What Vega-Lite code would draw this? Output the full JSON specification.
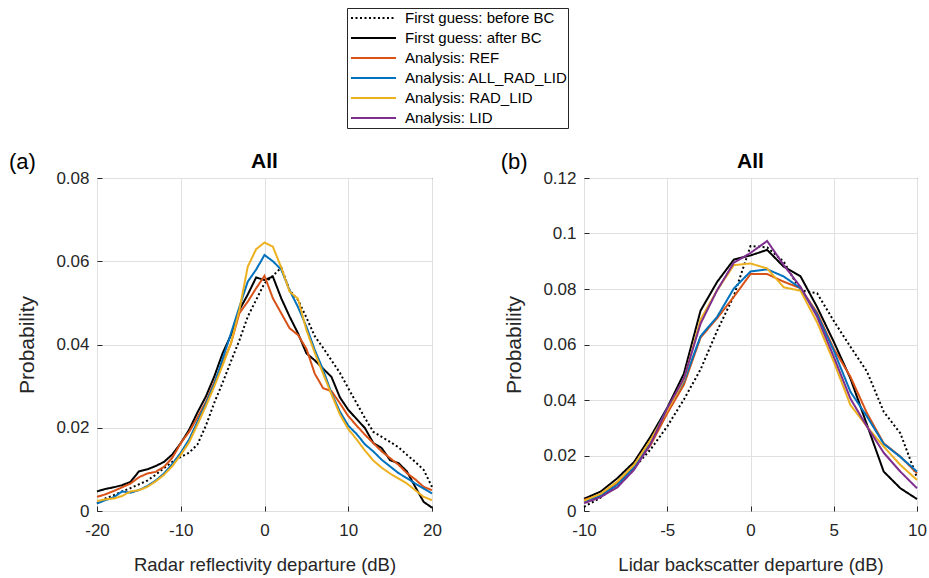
{
"$schema": "https://vega.github.io/schema/vega-lite/v6.json",
"padding": {"left": 8, "top": 7, "right": 5, "bottom": 5},
"background": "white",
"bounds": "flush",
"spacing": 152,
"config": {
  "font": "Liberation Sans",
  "view": {"stroke": "#262626", "strokeWidth": 1},
  "axis": {"labelFont": "Liberation Sans", "titleFont": "Liberation Sans", "labelFontSize": 17, "titleFontSize": 18.5, "titleFontWeight": "normal", "labelColor": "#262626", "titleColor": "#262626", "gridColor": "#e0e0e0", "gridWidth": 1, "domain": false, "tickColor": "#262626", "tickSize": -5, "labelPadding": 13, "labelFlush": false},
  "axisX": {"titlePadding": 17, "labelPadding": 16},
  "axisY": {"titlePadding": 18, "titleFontSize": 21},
  "title": {"font": "Liberation Sans", "fontSize": 21, "fontWeight": "bold", "color": "#000000", "offset": -21}
},
"datasets": {
"radar": [
{"x":-20,"p":0.0018,"s":"First guess: before BC"},{"x":-19,"p":0.0030,"s":"First guess: before BC"},{"x":-18,"p":0.0038,"s":"First guess: before BC"},{"x":-17,"p":0.0047,"s":"First guess: before BC"},{"x":-16,"p":0.0055,"s":"First guess: before BC"},{"x":-15,"p":0.0064,"s":"First guess: before BC"},{"x":-14,"p":0.0073,"s":"First guess: before BC"},{"x":-13,"p":0.0087,"s":"First guess: before BC"},{"x":-12,"p":0.0103,"s":"First guess: before BC"},{"x":-11,"p":0.0118,"s":"First guess: before BC"},{"x":-10,"p":0.0130,"s":"First guess: before BC"},{"x":-9,"p":0.0140,"s":"First guess: before BC"},{"x":-8,"p":0.0160,"s":"First guess: before BC"},{"x":-7,"p":0.0205,"s":"First guess: before BC"},{"x":-6,"p":0.0260,"s":"First guess: before BC"},{"x":-5,"p":0.0308,"s":"First guess: before BC"},{"x":-4,"p":0.0360,"s":"First guess: before BC"},{"x":-3,"p":0.0410,"s":"First guess: before BC"},{"x":-2,"p":0.0467,"s":"First guess: before BC"},{"x":-1,"p":0.0507,"s":"First guess: before BC"},{"x":0,"p":0.0547,"s":"First guess: before BC"},{"x":1,"p":0.0565,"s":"First guess: before BC"},{"x":2,"p":0.0585,"s":"First guess: before BC"},{"x":3,"p":0.0530,"s":"First guess: before BC"},{"x":4,"p":0.0507,"s":"First guess: before BC"},{"x":5,"p":0.0465,"s":"First guess: before BC"},{"x":6,"p":0.0420,"s":"First guess: before BC"},{"x":7,"p":0.0392,"s":"First guess: before BC"},{"x":8,"p":0.0362,"s":"First guess: before BC"},{"x":9,"p":0.0332,"s":"First guess: before BC"},{"x":10,"p":0.0295,"s":"First guess: before BC"},{"x":11,"p":0.0259,"s":"First guess: before BC"},{"x":12,"p":0.0223,"s":"First guess: before BC"},{"x":13,"p":0.0190,"s":"First guess: before BC"},{"x":14,"p":0.0178,"s":"First guess: before BC"},{"x":15,"p":0.0166,"s":"First guess: before BC"},{"x":16,"p":0.0153,"s":"First guess: before BC"},{"x":17,"p":0.0135,"s":"First guess: before BC"},{"x":18,"p":0.0118,"s":"First guess: before BC"},{"x":19,"p":0.0099,"s":"First guess: before BC"},{"x":20,"p":0.0058,"s":"First guess: before BC"},
{"x":-20,"p":0.0047,"s":"First guess: after BC"},{"x":-19,"p":0.0053,"s":"First guess: after BC"},{"x":-18,"p":0.0057,"s":"First guess: after BC"},{"x":-17,"p":0.0062,"s":"First guess: after BC"},{"x":-16,"p":0.0070,"s":"First guess: after BC"},{"x":-15,"p":0.0095,"s":"First guess: after BC"},{"x":-14,"p":0.0100,"s":"First guess: after BC"},{"x":-13,"p":0.0108,"s":"First guess: after BC"},{"x":-12,"p":0.0118,"s":"First guess: after BC"},{"x":-11,"p":0.0136,"s":"First guess: after BC"},{"x":-10,"p":0.0163,"s":"First guess: after BC"},{"x":-9,"p":0.0195,"s":"First guess: after BC"},{"x":-8,"p":0.0237,"s":"First guess: after BC"},{"x":-7,"p":0.0275,"s":"First guess: after BC"},{"x":-6,"p":0.0323,"s":"First guess: after BC"},{"x":-5,"p":0.0379,"s":"First guess: after BC"},{"x":-4,"p":0.0423,"s":"First guess: after BC"},{"x":-3,"p":0.0483,"s":"First guess: after BC"},{"x":-2,"p":0.0520,"s":"First guess: after BC"},{"x":-1,"p":0.0561,"s":"First guess: after BC"},{"x":0,"p":0.0555,"s":"First guess: after BC"},{"x":1,"p":0.0563,"s":"First guess: after BC"},{"x":2,"p":0.0511,"s":"First guess: after BC"},{"x":3,"p":0.0467,"s":"First guess: after BC"},{"x":4,"p":0.0427,"s":"First guess: after BC"},{"x":5,"p":0.0379,"s":"First guess: after BC"},{"x":6,"p":0.0362,"s":"First guess: after BC"},{"x":7,"p":0.0342,"s":"First guess: after BC"},{"x":8,"p":0.0322,"s":"First guess: after BC"},{"x":9,"p":0.0273,"s":"First guess: after BC"},{"x":10,"p":0.0243,"s":"First guess: after BC"},{"x":11,"p":0.0221,"s":"First guess: after BC"},{"x":12,"p":0.0199,"s":"First guess: after BC"},{"x":13,"p":0.0163,"s":"First guess: after BC"},{"x":14,"p":0.0151,"s":"First guess: after BC"},{"x":15,"p":0.0122,"s":"First guess: after BC"},{"x":16,"p":0.0115,"s":"First guess: after BC"},{"x":17,"p":0.0095,"s":"First guess: after BC"},{"x":18,"p":0.0058,"s":"First guess: after BC"},{"x":19,"p":0.0022,"s":"First guess: after BC"},{"x":20,"p":0.0008,"s":"First guess: after BC"},
{"x":-20,"p":0.0034,"s":"Analysis: REF"},{"x":-19,"p":0.0040,"s":"Analysis: REF"},{"x":-18,"p":0.0048,"s":"Analysis: REF"},{"x":-17,"p":0.0057,"s":"Analysis: REF"},{"x":-16,"p":0.0066,"s":"Analysis: REF"},{"x":-15,"p":0.0081,"s":"Analysis: REF"},{"x":-14,"p":0.0090,"s":"Analysis: REF"},{"x":-13,"p":0.0094,"s":"Analysis: REF"},{"x":-12,"p":0.0106,"s":"Analysis: REF"},{"x":-11,"p":0.0128,"s":"Analysis: REF"},{"x":-10,"p":0.0163,"s":"Analysis: REF"},{"x":-9,"p":0.0190,"s":"Analysis: REF"},{"x":-8,"p":0.0225,"s":"Analysis: REF"},{"x":-7,"p":0.0262,"s":"Analysis: REF"},{"x":-6,"p":0.0310,"s":"Analysis: REF"},{"x":-5,"p":0.0355,"s":"Analysis: REF"},{"x":-4,"p":0.0403,"s":"Analysis: REF"},{"x":-3,"p":0.0475,"s":"Analysis: REF"},{"x":-2,"p":0.0503,"s":"Analysis: REF"},{"x":-1,"p":0.0535,"s":"Analysis: REF"},{"x":0,"p":0.0565,"s":"Analysis: REF"},{"x":1,"p":0.0511,"s":"Analysis: REF"},{"x":2,"p":0.0475,"s":"Analysis: REF"},{"x":3,"p":0.0439,"s":"Analysis: REF"},{"x":4,"p":0.0423,"s":"Analysis: REF"},{"x":5,"p":0.0390,"s":"Analysis: REF"},{"x":6,"p":0.0330,"s":"Analysis: REF"},{"x":7,"p":0.0295,"s":"Analysis: REF"},{"x":8,"p":0.0288,"s":"Analysis: REF"},{"x":9,"p":0.0259,"s":"Analysis: REF"},{"x":10,"p":0.0228,"s":"Analysis: REF"},{"x":11,"p":0.0205,"s":"Analysis: REF"},{"x":12,"p":0.0183,"s":"Analysis: REF"},{"x":13,"p":0.0163,"s":"Analysis: REF"},{"x":14,"p":0.0143,"s":"Analysis: REF"},{"x":15,"p":0.0127,"s":"Analysis: REF"},{"x":16,"p":0.0111,"s":"Analysis: REF"},{"x":17,"p":0.0091,"s":"Analysis: REF"},{"x":18,"p":0.0076,"s":"Analysis: REF"},{"x":19,"p":0.0058,"s":"Analysis: REF"},{"x":20,"p":0.0050,"s":"Analysis: REF"},
{"x":-20,"p":0.0018,"s":"Analysis: ALL_RAD_LID"},{"x":-19,"p":0.0026,"s":"Analysis: ALL_RAD_LID"},{"x":-18,"p":0.0033,"s":"Analysis: ALL_RAD_LID"},{"x":-17,"p":0.0047,"s":"Analysis: ALL_RAD_LID"},{"x":-16,"p":0.0044,"s":"Analysis: ALL_RAD_LID"},{"x":-15,"p":0.0050,"s":"Analysis: ALL_RAD_LID"},{"x":-14,"p":0.0060,"s":"Analysis: ALL_RAD_LID"},{"x":-13,"p":0.0073,"s":"Analysis: ALL_RAD_LID"},{"x":-12,"p":0.0090,"s":"Analysis: ALL_RAD_LID"},{"x":-11,"p":0.0113,"s":"Analysis: ALL_RAD_LID"},{"x":-10,"p":0.0140,"s":"Analysis: ALL_RAD_LID"},{"x":-9,"p":0.0172,"s":"Analysis: ALL_RAD_LID"},{"x":-8,"p":0.0215,"s":"Analysis: ALL_RAD_LID"},{"x":-7,"p":0.0258,"s":"Analysis: ALL_RAD_LID"},{"x":-6,"p":0.0305,"s":"Analysis: ALL_RAD_LID"},{"x":-5,"p":0.0365,"s":"Analysis: ALL_RAD_LID"},{"x":-4,"p":0.0427,"s":"Analysis: ALL_RAD_LID"},{"x":-3,"p":0.0490,"s":"Analysis: ALL_RAD_LID"},{"x":-2,"p":0.0551,"s":"Analysis: ALL_RAD_LID"},{"x":-1,"p":0.0580,"s":"Analysis: ALL_RAD_LID"},{"x":0,"p":0.0615,"s":"Analysis: ALL_RAD_LID"},{"x":1,"p":0.0600,"s":"Analysis: ALL_RAD_LID"},{"x":2,"p":0.0580,"s":"Analysis: ALL_RAD_LID"},{"x":3,"p":0.0530,"s":"Analysis: ALL_RAD_LID"},{"x":4,"p":0.0490,"s":"Analysis: ALL_RAD_LID"},{"x":5,"p":0.0443,"s":"Analysis: ALL_RAD_LID"},{"x":6,"p":0.0387,"s":"Analysis: ALL_RAD_LID"},{"x":7,"p":0.0339,"s":"Analysis: ALL_RAD_LID"},{"x":8,"p":0.0283,"s":"Analysis: ALL_RAD_LID"},{"x":9,"p":0.0239,"s":"Analysis: ALL_RAD_LID"},{"x":10,"p":0.0205,"s":"Analysis: ALL_RAD_LID"},{"x":11,"p":0.0185,"s":"Analysis: ALL_RAD_LID"},{"x":12,"p":0.0160,"s":"Analysis: ALL_RAD_LID"},{"x":13,"p":0.0143,"s":"Analysis: ALL_RAD_LID"},{"x":14,"p":0.0123,"s":"Analysis: ALL_RAD_LID"},{"x":15,"p":0.0107,"s":"Analysis: ALL_RAD_LID"},{"x":16,"p":0.0091,"s":"Analysis: ALL_RAD_LID"},{"x":17,"p":0.0079,"s":"Analysis: ALL_RAD_LID"},{"x":18,"p":0.0066,"s":"Analysis: ALL_RAD_LID"},{"x":19,"p":0.0054,"s":"Analysis: ALL_RAD_LID"},{"x":20,"p":0.0042,"s":"Analysis: ALL_RAD_LID"},
{"x":-20,"p":0.0024,"s":"Analysis: RAD_LID"},{"x":-19,"p":0.0028,"s":"Analysis: RAD_LID"},{"x":-18,"p":0.0030,"s":"Analysis: RAD_LID"},{"x":-17,"p":0.0036,"s":"Analysis: RAD_LID"},{"x":-16,"p":0.0047,"s":"Analysis: RAD_LID"},{"x":-15,"p":0.0050,"s":"Analysis: RAD_LID"},{"x":-14,"p":0.0058,"s":"Analysis: RAD_LID"},{"x":-13,"p":0.0071,"s":"Analysis: RAD_LID"},{"x":-12,"p":0.0087,"s":"Analysis: RAD_LID"},{"x":-11,"p":0.0108,"s":"Analysis: RAD_LID"},{"x":-10,"p":0.0135,"s":"Analysis: RAD_LID"},{"x":-9,"p":0.0165,"s":"Analysis: RAD_LID"},{"x":-8,"p":0.0208,"s":"Analysis: RAD_LID"},{"x":-7,"p":0.0252,"s":"Analysis: RAD_LID"},{"x":-6,"p":0.0299,"s":"Analysis: RAD_LID"},{"x":-5,"p":0.0350,"s":"Analysis: RAD_LID"},{"x":-4,"p":0.0403,"s":"Analysis: RAD_LID"},{"x":-3,"p":0.0483,"s":"Analysis: RAD_LID"},{"x":-2,"p":0.0587,"s":"Analysis: RAD_LID"},{"x":-1,"p":0.0629,"s":"Analysis: RAD_LID"},{"x":0,"p":0.0645,"s":"Analysis: RAD_LID"},{"x":1,"p":0.0635,"s":"Analysis: RAD_LID"},{"x":2,"p":0.0585,"s":"Analysis: RAD_LID"},{"x":3,"p":0.0527,"s":"Analysis: RAD_LID"},{"x":4,"p":0.0510,"s":"Analysis: RAD_LID"},{"x":5,"p":0.0435,"s":"Analysis: RAD_LID"},{"x":6,"p":0.0380,"s":"Analysis: RAD_LID"},{"x":7,"p":0.0330,"s":"Analysis: RAD_LID"},{"x":8,"p":0.0280,"s":"Analysis: RAD_LID"},{"x":9,"p":0.0232,"s":"Analysis: RAD_LID"},{"x":10,"p":0.0197,"s":"Analysis: RAD_LID"},{"x":11,"p":0.0172,"s":"Analysis: RAD_LID"},{"x":12,"p":0.0145,"s":"Analysis: RAD_LID"},{"x":13,"p":0.0121,"s":"Analysis: RAD_LID"},{"x":14,"p":0.0104,"s":"Analysis: RAD_LID"},{"x":15,"p":0.0090,"s":"Analysis: RAD_LID"},{"x":16,"p":0.0078,"s":"Analysis: RAD_LID"},{"x":17,"p":0.0066,"s":"Analysis: RAD_LID"},{"x":18,"p":0.0050,"s":"Analysis: RAD_LID"},{"x":19,"p":0.0034,"s":"Analysis: RAD_LID"},{"x":20,"p":0.0026,"s":"Analysis: RAD_LID"}
],
"lidar": [
{"x":-10,"p":0.0015,"s":"First guess: before BC"},{"x":-9,"p":0.0048,"s":"First guess: before BC"},{"x":-8,"p":0.0095,"s":"First guess: before BC"},{"x":-7,"p":0.0155,"s":"First guess: before BC"},{"x":-6,"p":0.0222,"s":"First guess: before BC"},{"x":-5,"p":0.0305,"s":"First guess: before BC"},{"x":-4,"p":0.0402,"s":"First guess: before BC"},{"x":-3,"p":0.0510,"s":"First guess: before BC"},{"x":-2,"p":0.0650,"s":"First guess: before BC"},{"x":-1,"p":0.0775,"s":"First guess: before BC"},{"x":0,"p":0.0955,"s":"First guess: before BC"},{"x":1,"p":0.0950,"s":"First guess: before BC"},{"x":2,"p":0.0898,"s":"First guess: before BC"},{"x":3,"p":0.0795,"s":"First guess: before BC"},{"x":4,"p":0.0785,"s":"First guess: before BC"},{"x":5,"p":0.0685,"s":"First guess: before BC"},{"x":6,"p":0.0592,"s":"First guess: before BC"},{"x":7,"p":0.0502,"s":"First guess: before BC"},{"x":8,"p":0.0358,"s":"First guess: before BC"},{"x":9,"p":0.0280,"s":"First guess: before BC"},{"x":10,"p":0.0120,"s":"First guess: before BC"},
{"x":-10,"p":0.0044,"s":"First guess: after BC"},{"x":-9,"p":0.0070,"s":"First guess: after BC"},{"x":-8,"p":0.0118,"s":"First guess: after BC"},{"x":-7,"p":0.0176,"s":"First guess: after BC"},{"x":-6,"p":0.0268,"s":"First guess: after BC"},{"x":-5,"p":0.0372,"s":"First guess: after BC"},{"x":-4,"p":0.0495,"s":"First guess: after BC"},{"x":-3,"p":0.0722,"s":"First guess: after BC"},{"x":-2,"p":0.0826,"s":"First guess: after BC"},{"x":-1,"p":0.0906,"s":"First guess: after BC"},{"x":0,"p":0.0921,"s":"First guess: after BC"},{"x":1,"p":0.0941,"s":"First guess: after BC"},{"x":2,"p":0.0880,"s":"First guess: after BC"},{"x":3,"p":0.0846,"s":"First guess: after BC"},{"x":4,"p":0.0735,"s":"First guess: after BC"},{"x":5,"p":0.0610,"s":"First guess: after BC"},{"x":6,"p":0.0478,"s":"First guess: after BC"},{"x":7,"p":0.0310,"s":"First guess: after BC"},{"x":8,"p":0.0142,"s":"First guess: after BC"},{"x":9,"p":0.0082,"s":"First guess: after BC"},{"x":10,"p":0.0043,"s":"First guess: after BC"},
{"x":-10,"p":0.0040,"s":"Analysis: REF"},{"x":-9,"p":0.0058,"s":"Analysis: REF"},{"x":-8,"p":0.0102,"s":"Analysis: REF"},{"x":-7,"p":0.0160,"s":"Analysis: REF"},{"x":-6,"p":0.0238,"s":"Analysis: REF"},{"x":-5,"p":0.0352,"s":"Analysis: REF"},{"x":-4,"p":0.0455,"s":"Analysis: REF"},{"x":-3,"p":0.0625,"s":"Analysis: REF"},{"x":-2,"p":0.0695,"s":"Analysis: REF"},{"x":-1,"p":0.0772,"s":"Analysis: REF"},{"x":0,"p":0.0854,"s":"Analysis: REF"},{"x":1,"p":0.0854,"s":"Analysis: REF"},{"x":2,"p":0.0826,"s":"Analysis: REF"},{"x":3,"p":0.0803,"s":"Analysis: REF"},{"x":4,"p":0.0715,"s":"Analysis: REF"},{"x":5,"p":0.0585,"s":"Analysis: REF"},{"x":6,"p":0.0484,"s":"Analysis: REF"},{"x":7,"p":0.0352,"s":"Analysis: REF"},{"x":8,"p":0.0244,"s":"Analysis: REF"},{"x":9,"p":0.0196,"s":"Analysis: REF"},{"x":10,"p":0.0136,"s":"Analysis: REF"},
{"x":-10,"p":0.0034,"s":"Analysis: ALL_RAD_LID"},{"x":-9,"p":0.0055,"s":"Analysis: ALL_RAD_LID"},{"x":-8,"p":0.0094,"s":"Analysis: ALL_RAD_LID"},{"x":-7,"p":0.0156,"s":"Analysis: ALL_RAD_LID"},{"x":-6,"p":0.0250,"s":"Analysis: ALL_RAD_LID"},{"x":-5,"p":0.0370,"s":"Analysis: ALL_RAD_LID"},{"x":-4,"p":0.0466,"s":"Analysis: ALL_RAD_LID"},{"x":-3,"p":0.0630,"s":"Analysis: ALL_RAD_LID"},{"x":-2,"p":0.0700,"s":"Analysis: ALL_RAD_LID"},{"x":-1,"p":0.0802,"s":"Analysis: ALL_RAD_LID"},{"x":0,"p":0.0863,"s":"Analysis: ALL_RAD_LID"},{"x":1,"p":0.0871,"s":"Analysis: ALL_RAD_LID"},{"x":2,"p":0.0845,"s":"Analysis: ALL_RAD_LID"},{"x":3,"p":0.0803,"s":"Analysis: ALL_RAD_LID"},{"x":4,"p":0.0708,"s":"Analysis: ALL_RAD_LID"},{"x":5,"p":0.0578,"s":"Analysis: ALL_RAD_LID"},{"x":6,"p":0.0430,"s":"Analysis: ALL_RAD_LID"},{"x":7,"p":0.0340,"s":"Analysis: ALL_RAD_LID"},{"x":8,"p":0.0242,"s":"Analysis: ALL_RAD_LID"},{"x":9,"p":0.0195,"s":"Analysis: ALL_RAD_LID"},{"x":10,"p":0.0142,"s":"Analysis: ALL_RAD_LID"},
{"x":-10,"p":0.0037,"s":"Analysis: RAD_LID"},{"x":-9,"p":0.0062,"s":"Analysis: RAD_LID"},{"x":-8,"p":0.0106,"s":"Analysis: RAD_LID"},{"x":-7,"p":0.0166,"s":"Analysis: RAD_LID"},{"x":-6,"p":0.0256,"s":"Analysis: RAD_LID"},{"x":-5,"p":0.0362,"s":"Analysis: RAD_LID"},{"x":-4,"p":0.0472,"s":"Analysis: RAD_LID"},{"x":-3,"p":0.0690,"s":"Analysis: RAD_LID"},{"x":-2,"p":0.0796,"s":"Analysis: RAD_LID"},{"x":-1,"p":0.0886,"s":"Analysis: RAD_LID"},{"x":0,"p":0.0892,"s":"Analysis: RAD_LID"},{"x":1,"p":0.0874,"s":"Analysis: RAD_LID"},{"x":2,"p":0.0806,"s":"Analysis: RAD_LID"},{"x":3,"p":0.0794,"s":"Analysis: RAD_LID"},{"x":4,"p":0.0680,"s":"Analysis: RAD_LID"},{"x":5,"p":0.0538,"s":"Analysis: RAD_LID"},{"x":6,"p":0.0382,"s":"Analysis: RAD_LID"},{"x":7,"p":0.0304,"s":"Analysis: RAD_LID"},{"x":8,"p":0.0232,"s":"Analysis: RAD_LID"},{"x":9,"p":0.0166,"s":"Analysis: RAD_LID"},{"x":10,"p":0.0112,"s":"Analysis: RAD_LID"},
{"x":-10,"p":0.0028,"s":"Analysis: LID"},{"x":-9,"p":0.0050,"s":"Analysis: LID"},{"x":-8,"p":0.0085,"s":"Analysis: LID"},{"x":-7,"p":0.0148,"s":"Analysis: LID"},{"x":-6,"p":0.0241,"s":"Analysis: LID"},{"x":-5,"p":0.0370,"s":"Analysis: LID"},{"x":-4,"p":0.0478,"s":"Analysis: LID"},{"x":-3,"p":0.0675,"s":"Analysis: LID"},{"x":-2,"p":0.0796,"s":"Analysis: LID"},{"x":-1,"p":0.0895,"s":"Analysis: LID"},{"x":0,"p":0.0930,"s":"Analysis: LID"},{"x":1,"p":0.0973,"s":"Analysis: LID"},{"x":2,"p":0.0886,"s":"Analysis: LID"},{"x":3,"p":0.0808,"s":"Analysis: LID"},{"x":4,"p":0.0700,"s":"Analysis: LID"},{"x":5,"p":0.0556,"s":"Analysis: LID"},{"x":6,"p":0.0405,"s":"Analysis: LID"},{"x":7,"p":0.0304,"s":"Analysis: LID"},{"x":8,"p":0.0210,"s":"Analysis: LID"},{"x":9,"p":0.0142,"s":"Analysis: LID"},{"x":10,"p":0.0082,"s":"Analysis: LID"}
]
},
"hconcat": [
{
  "width": 335, "height": 333,
  "title": {"text": "All"},
  "layer": [
    {
      "data": {"name": "radar"},
      "mark": {"type": "line", "strokeWidth": 2},
      "encoding": {
        "x": {"field": "x", "type": "quantitative", "scale": {"domain": [-20, 20], "nice": false}, "axis": {"values": [-20, -10, 0, 10, 20], "title": "Radar reflectivity departure (dB)", "labelExpr": "'' + datum.value"}},
        "y": {"field": "p", "type": "quantitative", "scale": {"domain": [0, 0.08], "nice": false}, "axis": {"values": [0, 0.02, 0.04, 0.06, 0.08], "title": "Probability", "labelExpr": "'' + datum.value"}},
        "color": {"field": "s", "type": "nominal",
          "scale": {"domain": ["First guess: before BC", "First guess: after BC", "Analysis: REF", "Analysis: ALL_RAD_LID", "Analysis: RAD_LID", "Analysis: LID"], "range": ["#000000", "#000000", "#D95319", "#0072BD", "#EDB120", "#7E2F8E"]},
          "legend": {"orient": "none", "legendX": 250, "legendY": -170, "title": null, "symbolType": "stroke", "symbolSize": 2025, "symbolStrokeWidth": 2, "symbolOffset": 3, "labelFontSize": 15, "labelFont": "Liberation Sans", "labelColor": "#000000", "clipHeight": 19.8, "rowPadding": 0, "padding": 0, "strokeColor": "#262626", "fillColor": "white", "labelOffset": 8, "labelLimit": 300}},
        "strokeDash": {"field": "s", "type": "nominal",
          "scale": {"domain": ["First guess: before BC", "First guess: after BC", "Analysis: REF", "Analysis: ALL_RAD_LID", "Analysis: RAD_LID", "Analysis: LID"], "range": [[2, 2.5], [1, 0], [1, 0], [1, 0], [1, 0], [1, 0]]},
          "legend": {"orient": "none", "legendX": 250, "legendY": -170, "title": null, "symbolType": "stroke", "symbolSize": 2025, "symbolStrokeWidth": 2, "symbolOffset": 3, "labelFontSize": 15, "labelFont": "Liberation Sans", "labelColor": "#000000", "clipHeight": 19.8, "rowPadding": 0, "padding": 0, "strokeColor": "#262626", "fillColor": "white", "labelOffset": 8, "labelLimit": 300}}
      }
    },
    {
      "data": {"values": [{"lab": "(a)"}]},
      "mark": {"type": "text", "fontSize": 22, "font": "Liberation Sans", "color": "#000000", "align": "center", "baseline": "middle"},
      "encoding": {"x": {"datum": -28.9}, "y": {"datum": 0.0838}, "text": {"field": "lab"}}
    }
  ]
},
{
  "width": 333, "height": 333,
  "title": {"text": "All"},
  "layer": [
    {
      "data": {"name": "lidar"},
      "mark": {"type": "line", "strokeWidth": 2},
      "encoding": {
        "x": {"field": "x", "type": "quantitative", "scale": {"domain": [-10, 10], "nice": false}, "axis": {"values": [-10, -5, 0, 5, 10], "title": "Lidar backscatter departure (dB)", "labelExpr": "'' + datum.value"}},
        "y": {"field": "p", "type": "quantitative", "scale": {"domain": [0, 0.12], "nice": false}, "axis": {"values": [0, 0.02, 0.04, 0.06, 0.08, 0.1, 0.12], "title": "Probability", "labelExpr": "'' + datum.value"}},
        "color": {"field": "s", "type": "nominal",
          "scale": {"domain": ["First guess: before BC", "First guess: after BC", "Analysis: REF", "Analysis: ALL_RAD_LID", "Analysis: RAD_LID", "Analysis: LID"], "range": ["#000000", "#000000", "#D95319", "#0072BD", "#EDB120", "#7E2F8E"]},
          "legend": {"orient": "none", "legendX": 250, "legendY": -170, "title": null, "symbolType": "stroke", "symbolSize": 2025, "symbolStrokeWidth": 2, "symbolOffset": 3, "labelFontSize": 15, "labelFont": "Liberation Sans", "labelColor": "#000000", "clipHeight": 19.8, "rowPadding": 0, "padding": 0, "strokeColor": "#262626", "fillColor": "white", "labelOffset": 8, "labelLimit": 300}},
        "strokeDash": {"field": "s", "type": "nominal",
          "scale": {"domain": ["First guess: before BC", "First guess: after BC", "Analysis: REF", "Analysis: ALL_RAD_LID", "Analysis: RAD_LID", "Analysis: LID"], "range": [[2, 2.5], [1, 0], [1, 0], [1, 0], [1, 0], [1, 0]]},
          "legend": {"orient": "none", "legendX": 250, "legendY": -170, "title": null, "symbolType": "stroke", "symbolSize": 2025, "symbolStrokeWidth": 2, "symbolOffset": 3, "labelFontSize": 15, "labelFont": "Liberation Sans", "labelColor": "#000000", "clipHeight": 19.8, "rowPadding": 0, "padding": 0, "strokeColor": "#262626", "fillColor": "white", "labelOffset": 8, "labelLimit": 300}}
      }
    },
    {
      "data": {"values": [{"lab": "(b)"}]},
      "mark": {"type": "text", "fontSize": 22, "font": "Liberation Sans", "color": "#000000", "align": "center", "baseline": "middle"},
      "encoding": {"x": {"datum": -14.2}, "y": {"datum": 0.1257}, "text": {"field": "lab"}}
    }
  ]
}
]
}
